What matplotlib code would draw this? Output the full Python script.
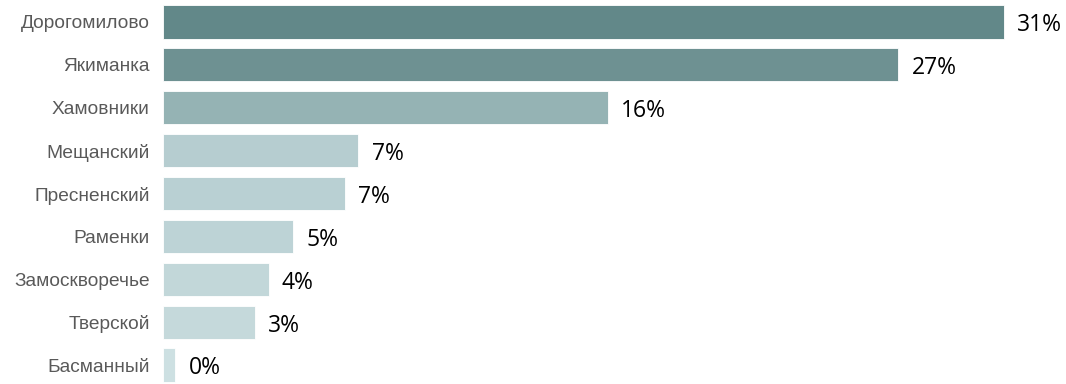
import matplotlib
matplotlib.use("Agg")
import matplotlib.pyplot as plt

# data
districts = ["Дорогомилово", "Якиманка", "Хамовники", "Мещанский", "Пресненский",
             "Раменки", "Замоскворечье", "Тверской", "Басманный"]
shares = [31.0, 27.1, 16.4, 7.2, 6.7, 4.8, 3.9, 3.4, 0.45]
colors = ["#628889", "#6e9192", "#95b3b4", "#b6cdd0", "#b9d0d3",
          "#bdd3d6", "#c2d7d9", "#c5d9db", "#cde0e2"]

fig = plt.figure(figsize=(10.66, 3.84), dpi=100)
ax = fig.add_axes([163 / 1066, 0, 1 - 163 / 1066, 1])

ypos = list(range(len(districts)))
ax.barh(ypos, shares, height=0.77, color=colors, edgecolor="white", linewidth=0.6)

# percent labels right of each bar
for y, v in zip(ypos, shares):
    ax.annotate(f"{v:.0f}%", (v, y), xytext=(9.5, -2.5), textcoords="offset points",
                ha="left", va="center", fontsize=16.5, family="Open Sans", color="black")

ax.set_xlim(0, 31.0 * (1066 - 163) / 841)
ax.set_ylim(8.443, -0.513)
ax.set_yticks(ypos)
ax.set_yticklabels(districts, fontsize=13.8, family="Liberation Sans", color="#595959")
ax.tick_params(axis="y", length=0, pad=9.5)
ax.set_xticks([])
for s in ax.spines.values():
    s.set_visible(False)

fig.savefig("out.png", dpi=100)
